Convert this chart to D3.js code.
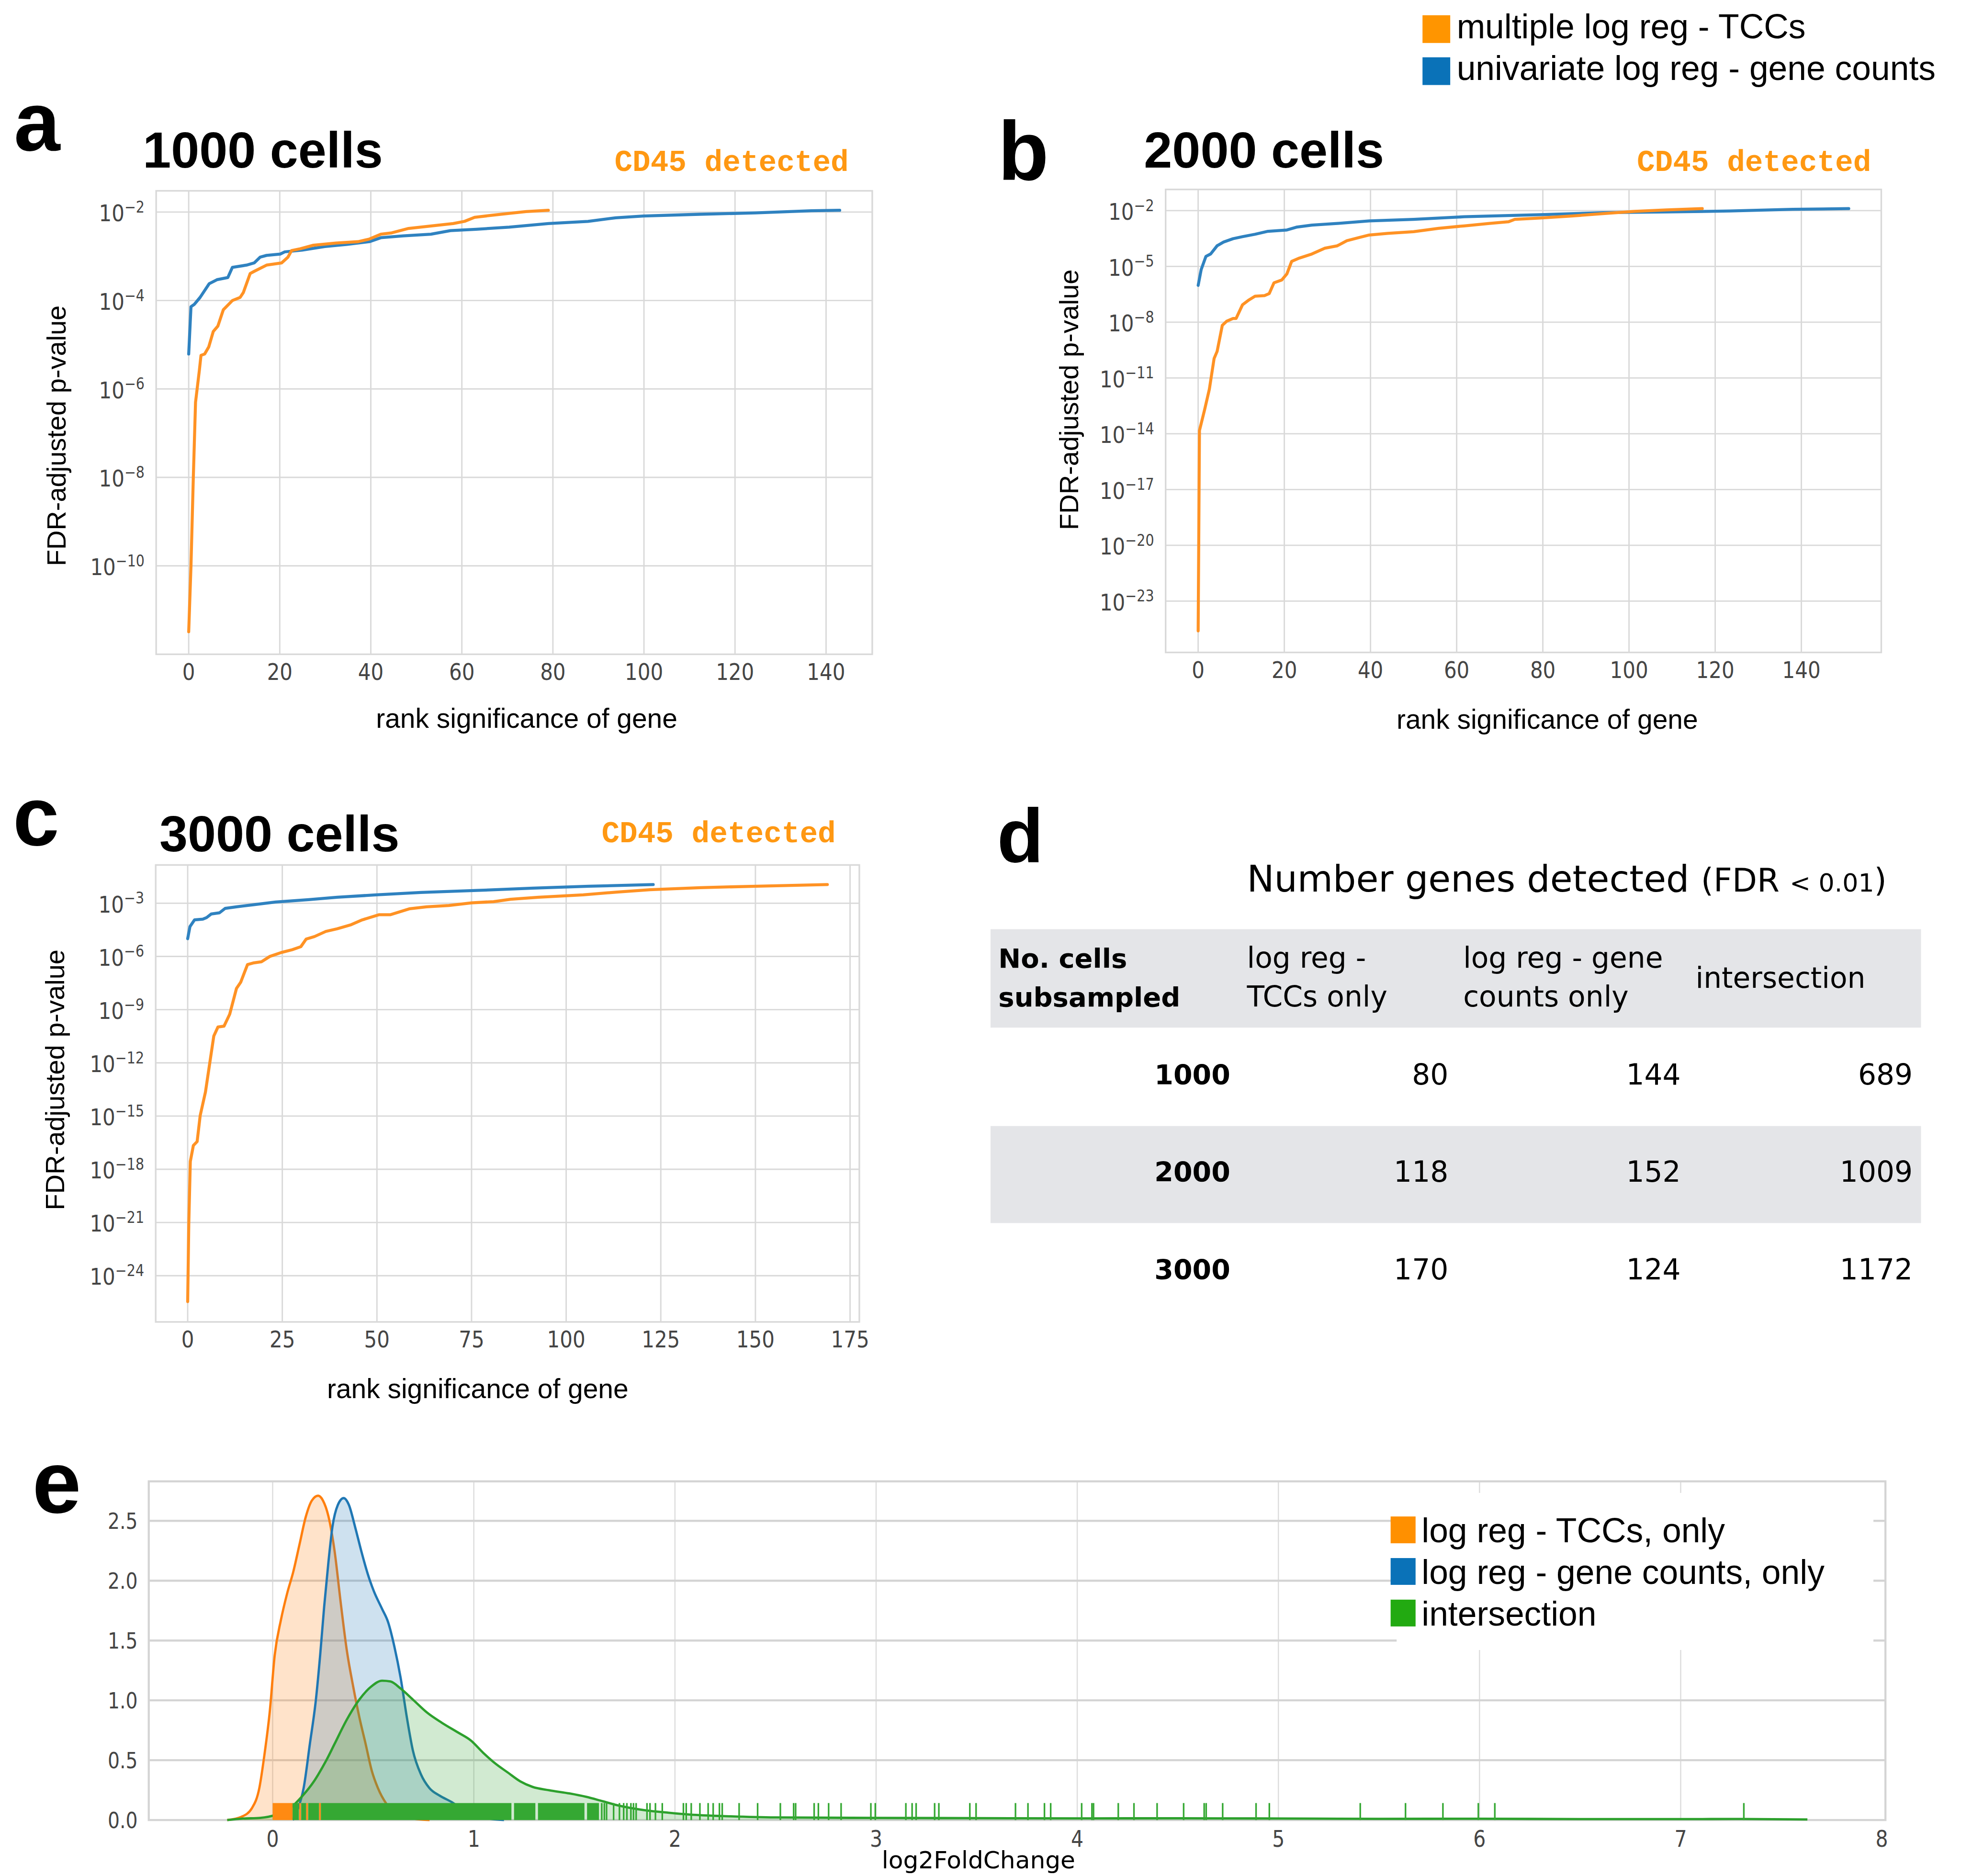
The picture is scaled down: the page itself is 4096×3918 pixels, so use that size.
<!DOCTYPE html>
<html>
<head>
<meta charset="utf-8">
<script src="https://cdn.jsdelivr.net/npm/d3@7"></script>
<style>
  html, body { margin: 0; padding: 0; background: #fff; }
  svg { display: block; }
</style>
</head>
<body>
<script>
// ---------------- data ----------------
// ranked FDR-adjusted p-values, stored as [rank, log10(p)]
const a_tcc = [[0,-11.49],[0.5,-10.0],[1,-8.05],[1.5,-6.3],[2.35,-5.57],[2.7,-5.24],[3.5,-5.21],[4.4,-5.05],[5.4,-4.70],[6.4,-4.58],[7.6,-4.21],[9.6,-4.0],[11.3,-3.93],[12.0,-3.82],[13.5,-3.39],[14.4,-3.34],[17.1,-3.20],[20.4,-3.15],[21.8,-3.02],[22.6,-2.87],[24.5,-2.83],[27.4,-2.75],[32.3,-2.70],[37.2,-2.67],[39.7,-2.61],[42.2,-2.50],[44.6,-2.47],[48.3,-2.37],[54.5,-2.30],[58.1,-2.26],[60.6,-2.21],[62.8,-2.12],[66.8,-2.07],[70.4,-2.03],[74.1,-1.99],[79,-1.96]];
const a_gene = [[0,-5.21],[0.5,-4.14],[1.2,-4.09],[2.5,-3.93],[4.5,-3.62],[6.2,-3.53],[8.6,-3.48],[9.6,-3.25],[12.7,-3.20],[14.4,-3.15],[15.7,-3.02],[17.1,-2.98],[20.1,-2.95],[21.1,-2.90],[24.9,-2.86],[29.9,-2.78],[34.8,-2.73],[39.7,-2.67],[42.2,-2.58],[47.1,-2.54],[53.2,-2.50],[57.5,-2.42],[63.1,-2.39],[70.4,-2.34],[79,-2.26],[87.7,-2.21],[93.8,-2.13],[99.9,-2.09],[112.2,-2.05],[124.5,-2.02],[136.8,-1.97],[143,-1.96]];

const b_tcc = [[0,-24.6],[0.3,-13.83],[1.5,-12.7],[2.6,-11.6],[3.7,-9.95],[4.4,-9.57],[5.6,-8.17],[6.6,-7.95],[8.1,-7.8],[8.8,-7.8],[10.3,-7.06],[11.8,-6.8],[13.2,-6.6],[15.4,-6.57],[16.5,-6.46],[17.6,-5.88],[19.4,-5.73],[20.6,-5.4],[21.7,-4.73],[23.5,-4.55],[26.4,-4.33],[29.4,-4.02],[32.3,-3.89],[34.5,-3.62],[37.5,-3.44],[39.7,-3.31],[44,-3.22],[50,-3.13],[55.8,-2.95],[61.7,-2.82],[67.6,-2.69],[72,-2.60],[73.5,-2.47],[79.3,-2.40],[86.7,-2.29],[94,-2.16],[101.4,-2.04],[108.7,-1.96],[117,-1.89]];
const b_gene = [[0,-6.02],[0.7,-5.17],[1.8,-4.46],[2.9,-4.33],[4.4,-3.89],[5.9,-3.69],[8.1,-3.51],[10.3,-3.40],[13.2,-3.27],[16.2,-3.11],[20.6,-3.04],[22.8,-2.89],[26.4,-2.78],[32.3,-2.69],[39.7,-2.55],[50,-2.47],[61.7,-2.33],[79.3,-2.22],[94,-2.11],[108.7,-2.07],[123.4,-2.02],[138,-1.93],[151,-1.89]];

const c_tcc = [[0,-25.46],[0.3,-21.0],[0.7,-17.56],[1.5,-16.66],[2.5,-16.44],[3.3,-14.98],[4.7,-13.64],[5.8,-12.06],[6.9,-10.49],[8,-9.98],[9.6,-9.93],[11.1,-9.26],[12.9,-7.8],[14,-7.46],[15.8,-6.46],[17.3,-6.37],[19.5,-6.3],[21.7,-6.0],[24.7,-5.78],[27.6,-5.62],[29.9,-5.45],[31.3,-5.02],[33.5,-4.88],[36.5,-4.59],[39.5,-4.44],[43.2,-4.21],[46.1,-3.94],[50.5,-3.65],[53.5,-3.65],[58.7,-3.31],[63.1,-3.2],[69,-3.13],[75,-2.98],[80.8,-2.91],[85.3,-2.78],[92.7,-2.66],[104.5,-2.53],[113.4,-2.37],[122.2,-2.24],[135.5,-2.12],[150.3,-2.04],[169,-1.95]];
const c_gene = [[0,-5.0],[0.6,-4.32],[1.8,-3.94],[4,-3.9],[5,-3.81],[6.2,-3.61],[8.4,-3.54],[9.9,-3.29],[12.9,-3.2],[17.3,-3.09],[23.2,-2.93],[32,-2.8],[39.5,-2.66],[49.8,-2.53],[61.6,-2.39],[76.4,-2.28],[91.2,-2.15],[106,-2.04],[123,-1.95]];

const panelTitles = ["1000 cells", "2000 cells", "3000 cells"];
const panelLetters = ["a", "b", "c", "d", "e"];
const tickRanksAB = [0, 20, 40, 60, 80, 100, 120, 140];
const tickRanksC = [0, 25, 50, 75, 100, 125, 150, 175];
const tickExpA = [-10, -8, -6, -4, -2];
const tickExpB = [-23, -20, -17, -14, -11, -8, -5, -2];
const tickExpC = [-24, -21, -18, -15, -12, -9, -6, -3];

const legendTop = ["multiple log reg - TCCs", "univariate log reg - gene counts"];

// table (panel d)
const cellCounts = ["1000", "2000", "3000"];
const tccOnly = [80, 118, 170];
const geneCountsOnly = [144, 152, 124];
const intersectionCount = [689, 1009, 1172];

// panel e: kernel density curves of log2FoldChange, [x, density]
const kdeTcc = [[-0.226,0.0],[-0.154,0.028],[-0.103,0.10],[-0.066,0.27],[-0.041,0.545],[-0.014,0.914],[0.010,1.376],[0.041,1.672],[0.072,1.894],[0.103,2.078],[0.133,2.30],[0.164,2.53],[0.195,2.67],[0.226,2.71],[0.250,2.67],[0.277,2.54],[0.308,2.245],[0.338,1.82],[0.369,1.413],[0.400,1.118],[0.431,0.859],[0.462,0.637],[0.492,0.416],[0.523,0.268],[0.564,0.139],[0.62,0.05],[0.7,0.012],[0.78,0.0]];
const kdeGene = [[0.10,0.0],[0.123,0.083],[0.154,0.268],[0.185,0.637],[0.215,1.007],[0.236,1.376],[0.256,1.783],[0.277,2.152],[0.297,2.448],[0.324,2.633],[0.353,2.69],[0.379,2.633],[0.410,2.448],[0.441,2.245],[0.472,2.06],[0.503,1.912],[0.544,1.764],[0.574,1.653],[0.605,1.45],[0.636,1.19],[0.667,0.859],[0.697,0.582],[0.738,0.379],[0.779,0.268],[0.831,0.203],[0.892,0.148],[0.95,0.08],[1.05,0.02],[1.15,0.0]];
const kdeBoth = [[-0.226,0.0],[-0.15,0.012],[-0.062,0.018],[0.02,0.046],[0.082,0.092],[0.144,0.194],[0.205,0.323],[0.226,0.379],[0.267,0.5],[0.308,0.637],[0.369,0.84],[0.431,1.007],[0.492,1.118],[0.544,1.164],[0.585,1.158],[0.636,1.099],[0.697,1.007],[0.769,0.896],[0.841,0.813],[0.923,0.73],[0.985,0.665],[1.046,0.563],[1.108,0.471],[1.169,0.397],[1.231,0.323],[1.292,0.277],[1.374,0.249],[1.477,0.222],[1.559,0.194],[1.641,0.157],[1.723,0.12],[1.846,0.083],[1.969,0.061],[2.072,0.046],[2.277,0.031],[2.5,0.022],[3.0,0.018],[3.5,0.016],[4.0,0.014],[4.5,0.015],[5.0,0.013],[5.5,0.010],[6.0,0.011],[6.5,0.008],[7.0,0.008],[7.3,0.009],[7.63,0.005]];

// rug marks: stretches where ticks merge into solid bands, then single ticks
const rugTccBands = [[0.0, 0.099]];
const rugTccTicks = [0.136, 0.171, 0.235];
const rugBothBands = [[0.099,0.130],[0.142,0.166],[0.177,0.230],[0.240,1.187],[1.200,1.306],[1.319,1.550],[1.563,1.622]];
const rugBothTicks = [1.636,1.649,1.660,1.695,1.724,1.745,1.761,1.781,1.794,1.807,1.861,1.876,1.903,1.937,2.042,2.056,2.081,2.124,2.165,2.190,2.221,2.235,2.319,2.411,2.524,2.590,2.600,2.692,2.713,2.764,2.826,2.974,2.996,3.148,3.179,3.199,3.291,3.312,3.466,3.497,3.693,3.755,3.837,3.868,4.022,4.073,4.081,4.204,4.282,4.397,4.529,4.631,4.641,4.723,4.889,4.955,5.407,5.632,5.818,5.994,6.076,7.314];
const foldTicks = [0, 1, 2, 3, 4, 5, 6, 7, 8];
const densityTicks = [0.0, 0.5, 1.0, 1.5, 2.0, 2.5];
const legendE = ["log reg - TCCs, only", "log reg - gene counts, only", "intersection"];

// ---------------- drawing ----------------
const W = 4244, H = 4060, S = 0.965;
const ORANGE = "#ff9224", BLUE = "#2f82c0";
const GRID = "#d9d9d9", TICK = "#454545";
const SANS = "'Liberation Sans', Arial, Helvetica, sans-serif";
const DV = "'DejaVu Sans', sans-serif";

const svg = d3.select("body").append("svg")
  .attr("width", 4096).attr("height", 3918)
  .attr("viewBox", "0 0 4096 3918");
const root = svg.append("g").attr("transform", `scale(${S})`);
root.append("rect").attr("width", W).attr("height", H).attr("fill", "#fff");

function letter(t, x, y, size) {
  root.append("text").attr("x", x).attr("y", y).text(t)
    .attr("font-family", SANS).attr("font-weight", "bold")
    .attr("font-size", size).attr("fill", "#000");
}

function rankPanel(p) {
  const g = root.append("g");
  const x = d3.scaleLinear().domain(p.xDomain).range([p.left, p.right]);
  const y = d3.scaleLinear().domain(p.yDomain).range([p.bottom, p.top]);

  g.selectAll(".vgrid").data(p.xTicks).join("line")
    .attr("x1", d => x(d)).attr("x2", d => x(d))
    .attr("y1", p.top).attr("y2", p.bottom)
    .attr("stroke", GRID).attr("stroke-width", 3);
  g.selectAll(".hgrid").data(p.yTicks).join("line")
    .attr("x1", p.left).attr("x2", p.right)
    .attr("y1", d => y(d)).attr("y2", d => y(d))
    .attr("stroke", GRID).attr("stroke-width", 3);
  g.append("rect").attr("x", p.left).attr("y", p.top)
    .attr("width", p.right - p.left).attr("height", p.bottom - p.top)
    .attr("fill", "none").attr("stroke", GRID).attr("stroke-width", 3.5);

  const line = d3.line().x(d => x(d[0])).y(d => y(d[1]));
  g.append("path").datum(p.gene).attr("d", line)
    .attr("fill", "none").attr("stroke", BLUE).attr("stroke-width", 6.5)
    .attr("stroke-linejoin", "round").attr("stroke-linecap", "round");
  g.append("path").datum(p.tcc).attr("d", line)
    .attr("fill", "none").attr("stroke", ORANGE).attr("stroke-width", 6.5)
    .attr("stroke-linejoin", "round").attr("stroke-linecap", "round");

  // x tick labels
  g.selectAll(".xt").data(p.xTicks).join("text")
    .attr("transform", d => `translate(${x(d)},${p.bottom + 55}) scale(0.87,1)`)
    .attr("text-anchor", "middle").attr("font-family", DV)
    .attr("font-size", 50).attr("fill", TICK).text(d => d);

  // y tick labels 10^n
  const yt = g.selectAll(".yt").data(p.yTicks).join("text")
    .attr("transform", d => `translate(${p.left - 25},${y(d) + 20}) scale(0.87,1)`)
    .attr("text-anchor", "end").attr("font-family", DV)
    .attr("font-size", 50).attr("fill", TICK);
  yt.append("tspan").text("10");
  yt.append("tspan").attr("dy", -19).attr("font-size", 34)
    .text(d => "\u2212" + Math.abs(d));

  // axis titles
  g.append("text").attr("x", p.xLabelX).attr("y", p.xLabelY)
    .attr("text-anchor", "middle").attr("font-family", SANS)
    .attr("font-size", 59).attr("fill", "#000").text("rank significance of gene");
  g.append("text")
    .attr("transform", `translate(${p.yLabelX},${p.yLabelY}) rotate(-90)`)
    .attr("text-anchor", "middle").attr("font-family", SANS)
    .attr("font-size", 58).attr("fill", "#000").text("FDR-adjusted p-value");

  // panel title and annotation
  g.append("text").attr("x", p.titleX).attr("y", p.titleY)
    .attr("font-family", SANS).attr("font-weight", "bold")
    .attr("font-size", 110).attr("fill", "#000").text(p.title);
  g.append("text").attr("x", p.noteX).attr("y", p.noteY)
    .attr("font-family", "'Liberation Mono', 'Courier New', monospace")
    .attr("font-weight", "bold").attr("font-size", 65)
    .attr("fill", "#ff9812").text("CD45 detected");
}

rankPanel({
  left: 338, right: 1888, top: 413, bottom: 1416,
  xDomain: [-7.15, 150.15], yDomain: [-12.0, -1.52],
  xTicks: tickRanksAB, yTicks: tickExpA, tcc: a_tcc, gene: a_gene,
  xLabelX: 1140, xLabelY: 1575, yLabelX: 142, yLabelY: 943,
  title: panelTitles[0], titleX: 309, titleY: 363, noteX: 1330, noteY: 370
});
rankPanel({
  left: 2523, right: 4072, top: 410, bottom: 1412,
  xDomain: [-7.55, 158.55], yDomain: [-25.76, -0.86],
  xTicks: tickRanksAB, yTicks: tickExpB, tcc: b_tcc, gene: b_gene,
  xLabelX: 3349, xLabelY: 1577, yLabelX: 2334, yLabelY: 865,
  title: panelTitles[1], titleX: 2476, titleY: 363, noteX: 3543, noteY: 370
});
rankPanel({
  left: 337, right: 1860, top: 1872, bottom: 2861,
  xDomain: [-8.45, 177.45], yDomain: [-26.61, -0.843],
  xTicks: tickRanksC, yTicks: tickExpC, tcc: c_tcc, gene: c_gene,
  xLabelX: 1034, xLabelY: 3026, yLabelX: 139, yLabelY: 2337,
  title: panelTitles[2], titleX: 345, titleY: 1842, noteX: 1302, noteY: 1823
});

letter(panelLetters[0], 30, 325, 180);
letter(panelLetters[1], 2160, 390, 180);
letter(panelLetters[2], 28, 1829, 180);
letter(panelLetters[3], 2158, 1866, 165);
letter(panelLetters[4], 70, 3274, 190);

// ---- top legend ----
const topColors = ["#ff9500", "#0a72b8"];
legendTop.forEach((t, i) => {
  const y0 = i === 0 ? 33 : 124;
  root.append("rect").attr("x", 3079).attr("y", y0).attr("width", 60).attr("height", 60)
    .attr("fill", topColors[i]);
  root.append("text").attr("x", 3153).attr("y", i === 0 ? 83 : 173)
    .attr("font-family", SANS).attr("font-size", 74).attr("fill", "#000").text(t);
});

// ---- panel d: table ----
(function table() {
  const g = root.append("g");
  const bandL = 2144, bandR = 4158;
  g.append("rect").attr("x", bandL).attr("y", 2011).attr("width", bandR - bandL)
    .attr("height", 213).attr("fill", "#e4e5e8");
  g.append("rect").attr("x", bandL).attr("y", 2437).attr("width", bandR - bandL)
    .attr("height", 210).attr("fill", "#e4e5e8");

  const title = g.append("text").attr("x", 2699).attr("y", 1930)
    .attr("font-family", DV).attr("fill", "#000");
  title.append("tspan").attr("font-size", 79).text("Number genes detected ");
  title.append("tspan").attr("font-size", 70).text("(FDR ");
  title.append("tspan").attr("font-size", 54).text("< 0.01");
  title.append("tspan").attr("font-size", 70).text(")");

  const hdr = [
    {x: 2161, lines: ["No. cells", "subsampled"], bold: true},
    {x: 2699, lines: ["log reg -", "TCCs only"], bold: false},
    {x: 3167, lines: ["log reg - gene", "counts only"], bold: false}
  ];
  hdr.forEach(h => {
    h.lines.forEach((ln, k) => {
      g.append("text").attr("x", h.x).attr("y", k === 0 ? 2094 : 2178)
        .attr("font-family", DV).attr("font-size", h.bold ? 58 : 62)
        .attr("font-weight", h.bold ? "bold" : "normal").attr("fill", "#000").text(ln);
    });
  });
  g.append("text").attr("x", 3670).attr("y", 2138).attr("font-family", DV)
    .attr("font-size", 62).attr("fill", "#000").text("intersection");

  const rowY = [2347, 2557, 2769];
  const cols = [
    {x: 2663, vals: cellCounts, bold: true},
    {x: 3135, vals: tccOnly, bold: false},
    {x: 3638, vals: geneCountsOnly, bold: false},
    {x: 4140, vals: intersectionCount, bold: false}
  ];
  cols.forEach(c => {
    c.vals.forEach((v, i) => {
      g.append("text").attr("x", c.x).attr("y", rowY[i]).attr("text-anchor", "end")
        .attr("font-family", DV).attr("font-size", c.bold ? 59 : 62)
        .attr("font-weight", c.bold ? "bold" : "normal").attr("fill", "#000").text(v);
    });
  });
})();

// ---- panel e: density of log2FoldChange ----
(function density() {
  const L = 322, R = 4081, T = 3206, B = 3939;
  const g = root.append("g");
  const x = d3.scaleLinear().domain([-0.616, 8.018]).range([L, R]);
  const y = d3.scaleLinear().domain([0, 2.83]).range([B, T]);

  g.selectAll(".vg").data(foldTicks.filter(d => d < 8)).join("line")
    .attr("x1", d => x(d)).attr("x2", d => x(d)).attr("y1", T).attr("y2", B)
    .attr("stroke", "#dcdcdc").attr("stroke-width", 2.5);
  g.selectAll(".hg").data(densityTicks.filter(d => d > 0)).join("line")
    .attr("x1", L).attr("x2", R).attr("y1", d => y(d)).attr("y2", d => y(d))
    .attr("stroke", "#d4d4d4").attr("stroke-width", 4.5);
  g.append("rect").attr("x", L).attr("y", T).attr("width", R - L).attr("height", B - T)
    .attr("fill", "none").attr("stroke", "#d4d4d4").attr("stroke-width", 4.5);

  // legend background hides the grid behind it
  g.append("rect").attr("x", 3023).attr("y", 3231).attr("width", 1032).attr("height", 340)
    .attr("fill", "#fff");

  const area = d3.area().x(d => x(d[0])).y0(y(0)).y1(d => y(d[1])).curve(d3.curveMonotoneX);
  const line = d3.line().x(d => x(d[0])).y(d => y(d[1])).curve(d3.curveMonotoneX);
  const series = [
    {data: kdeTcc, color: "#ff7f0e"},
    {data: kdeGene, color: "#1f77b4"},
    {data: kdeBoth, color: "#2ca02c"}
  ];
  series.forEach(s => {
    g.append("path").datum(s.data).attr("d", area)
      .attr("fill", s.color).attr("fill-opacity", 0.22).attr("stroke", "none");
    g.append("path").datum(s.data).attr("d", line)
      .attr("fill", "none").attr("stroke", s.color).attr("stroke-width", 5)
      .attr("stroke-linejoin", "round");
  });

  // rug marks
  const rugH = 0.142;
  const drawRug = (bands, ticks, color) => {
    g.append("g").selectAll("rect").data(bands).join("rect")
      .attr("x", d => x(d[0])).attr("width", d => x(d[1]) - x(d[0]))
      .attr("y", y(rugH)).attr("height", y(0) - y(rugH)).attr("fill", color);
    g.append("g").selectAll("line").data(ticks).join("line")
      .attr("x1", d => x(d)).attr("x2", d => x(d))
      .attr("y1", y(rugH)).attr("y2", y(0))
      .attr("stroke", color).attr("stroke-width", 3.5);
  };
  drawRug(rugTccBands, rugTccTicks, "#ff8a12");
  drawRug(rugBothBands, rugBothTicks, "#35a833");

  // tick labels
  g.selectAll(".xt").data(foldTicks).join("text")
    .attr("transform", d => `translate(${x(d)},${B + 58}) scale(0.85,1)`)
    .attr("text-anchor", "middle").attr("font-family", DV).attr("font-size", 50)
    .attr("fill", TICK).text(d => d);
  g.selectAll(".yt").data(densityTicks).join("text")
    .attr("transform", d => `translate(${L - 24},${y(d) + 17}) scale(0.85,1)`)
    .attr("text-anchor", "end").attr("font-family", DV).attr("font-size", 48)
    .attr("fill", TICK).text(d => d.toFixed(1));
  g.append("text").attr("x", 2118).attr("y", 4044).attr("text-anchor", "middle")
    .attr("font-family", DV).attr("font-size", 52).attr("fill", "#000").text("log2FoldChange");

  // legend
  const legColors = ["#ff9000", "#0a72b8", "#22aa11"];
  const legY = [3282, 3372, 3462];
  legendE.forEach((t, i) => {
    g.append("rect").attr("x", 3010).attr("y", legY[i]).attr("width", 54).attr("height", 58)
      .attr("fill", legColors[i]);
    g.append("text").attr("x", 3077).attr("y", legY[i] + 56)
      .attr("font-family", SANS).attr("font-size", 74).attr("fill", "#000").text(t);
  });
})();
</script>
</body>
</html>
